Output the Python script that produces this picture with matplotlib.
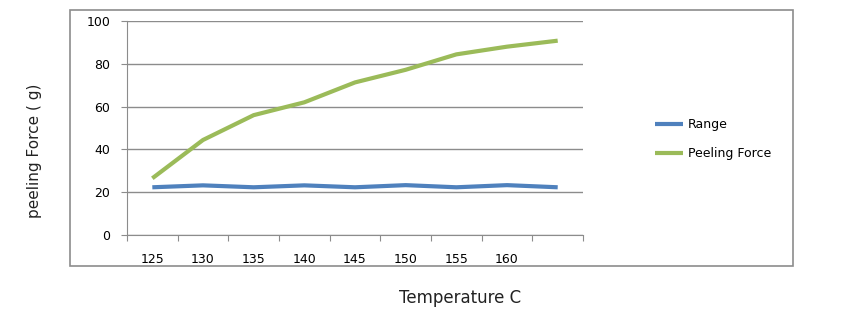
import matplotlib.pyplot as plt
import numpy as np
from matplotlib.patches import Rectangle

# data
temps = ['125', '130', '135', '140', '145', '150', '155', '160', '']
range_vals = [22.3, 23.2, 22.3, 23.2, 22.3, 23.3, 22.3, 23.3, 22.3]
peel_force = [26.5, 44.4, 56, 62, 71.3, 77.2, 84.4, 88, 90.8]
y_ticks = [0, 20, 40, 60, 80, 100]

fig = plt.figure(figsize=(8.68, 3.31), dpi=100)

# outer chart border (Excel style)
fig.patches.append(Rectangle((0.0806, 0.196), 0.833, 0.774, transform=fig.transFigure,
                             fill=False, edgecolor='#8c8c8c', linewidth=1.2))

ax = fig.add_axes([0.1463, 0.29, 0.5254, 0.6466])
x = np.arange(len(temps))
ax.plot(x, range_vals, color='#4F81BD', linewidth=3, label='Range', solid_capstyle='butt')
ax.plot(x, peel_force, color='#9BBB59', linewidth=3, label='Peeling Force', solid_capstyle='butt')

ax.set_xlim(-0.5, len(temps) - 0.5)
ax.set_ylim(0, 100)
ax.set_yticks(y_ticks)
ax.yaxis.grid(True, color='#8c8c8c', linewidth=1)
ax.set_axisbelow(True)

# category ticks between, labels at centres
ax.set_xticks(np.arange(-0.5, len(temps)), labels=[])
ax.set_xticks(x, labels=temps, minor=True)
ax.tick_params(axis='x', which='major', direction='out', length=4, color='#8c8c8c')
ax.tick_params(axis='x', which='minor', length=0, pad=13, labelsize=9)
ax.tick_params(axis='y', direction='out', length=4, color='#8c8c8c', pad=8, labelsize=9)

for s in ['top', 'right']:
    ax.spines[s].set_visible(False)
for s in ['left', 'bottom']:
    ax.spines[s].set_color('#8c8c8c')

fig.text(0.04, 0.545, 'peeling Force ( g)', rotation=90, ha='center', va='center',
         fontsize=11, color='#222222')
fig.text(0.53, 0.10, 'Temperature C', ha='center', va='center', fontsize=12, color='#222222')

ax.legend(loc='center left', bbox_to_anchor=(0.742, 0.58), bbox_transform=fig.transFigure,
          frameon=False, fontsize=9, handlelength=2.2, labelspacing=1.3, handletextpad=0.4)

fig.savefig('out.png', dpi=100)
